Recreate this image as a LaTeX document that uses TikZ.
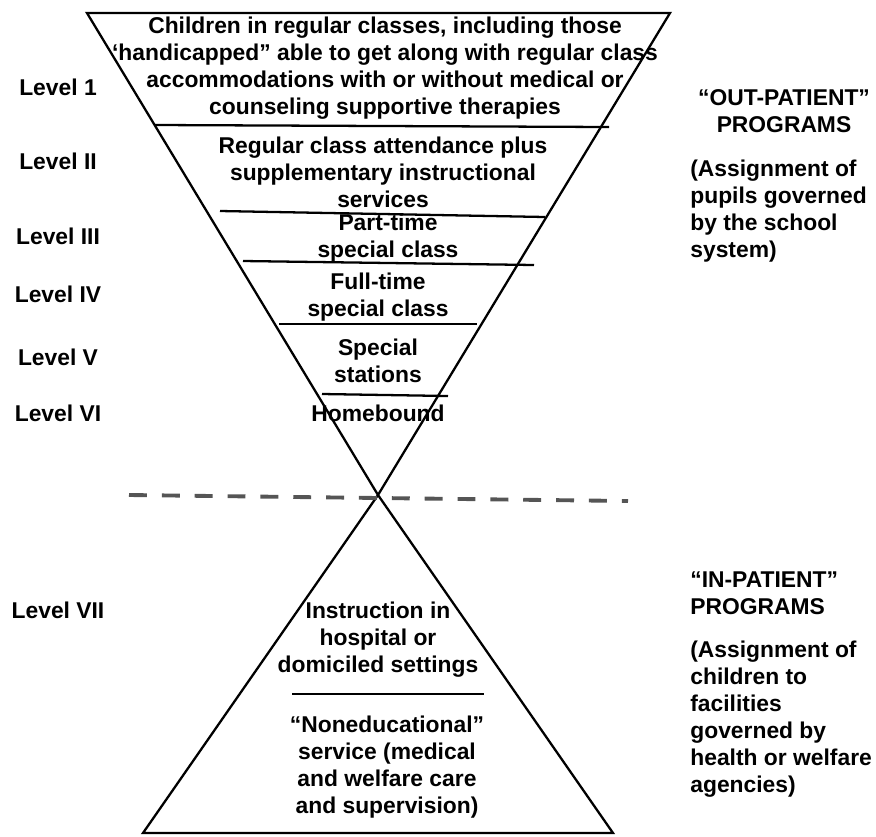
\documentclass[tikz,border=0pt]{standalone}
\usepackage{fontspec}
\setmainfont{Liberation Sans}
\usepackage{xcolor}
\definecolor{cutgray}{HTML}{555555}
\tikzset{
  bandtext/.style={
    font=\bfseries\fontsize{13}{15.4}\selectfont,
    inner sep=0pt,
    align=center
  },
  leveltext/.style={
    font=\bfseries\fontsize{13}{15.4}\selectfont,
    inner sep=0pt
  },
  sidetext/.style={
    font=\bfseries\fontsize{13}{15.4}\selectfont,
    inner sep=0pt,
    align=left,
    anchor=west
  },
  funnel/.style={
    line width=1.3pt,
    draw=black
  },
  divider/.style={
    line width=1.3pt,
    draw=black
  },
  cutline/.style={
    line width=2.2pt,
    draw=cutgray,
    dash pattern=on 10.2pt off 8.5pt
  }
}

\begin{document}
\begin{tikzpicture}[x=0.02cm, y=-0.02cm]
\useasboundingbox (0,0) rectangle (876,836);
% the two triangles meeting at one point
\coordinate (topleft) at (87,13);
\coordinate (topright) at (670,13);
\coordinate (apex) at (378,495);
\coordinate (baseleft) at (143,833);
\coordinate (baseright) at (613,833);
\draw[funnel] (topleft) -- (topright) -- (apex) -- cycle;
\draw[funnel] (apex) -- (baseleft) -- (baseright) -- cycle;
% band dividers
\draw[divider] (155,125) -- (609,127);
\draw[divider] (220,211) -- (545,217);
\draw[divider] (243,261) -- (534,265);
\draw[divider] (279,324) -- (477,324);
\draw[divider] (322,394) -- (448,396);
\draw[divider] (292,694) -- (484,694);
\draw[cutline] (129,495) -- (628,501);
% band texts
\node[bandtext] (regular) at (385,68) {Children in regular classes, including those\\‘handicapped” able to get along with regular class\\accommodations with or without medical or\\counseling supportive therapies};
\node[bandtext] (supplement) at (383,172) {Regular class attendance plus\\supplementary instructional\\services};
\node[bandtext] (parttime) at (388,238) {Part-time\\special class};
\node[bandtext] (fulltime) at (378,297) {Full-time\\special class};
\node[bandtext] (stations) at (378,361) {Special\\stations};
\node[bandtext] (homebound) at (378,413) {Homebound};
\node[bandtext] (hospital) at (378,640) {Instruction in\\hospital or\\domiciled settings};
\node[bandtext] (noneducational) at (387,767) {“Noneducational”\\service (medical\\and welfare care\\and supervision)};
% level labels
\node[leveltext] (lvlI) at (58,87) {Level 1};
\node[leveltext] (lvlII) at (58,161) {Level II};
\node[leveltext] (lvlIII) at (58,236) {Level III};
\node[leveltext] (lvlIV) at (58,294) {Level IV};
\node[leveltext] (lvlV) at (58,357) {Level V};
\node[leveltext] (lvlVI) at (58,413) {Level VI};
\node[leveltext] (lvlVII) at (58,610) {Level VII};
% program notes
\node[bandtext] (outhead) at (784,111) {“OUT-PATIENT”\\PROGRAMS};
\node[sidetext] (outnote) at (690,211) {(Assignment of\\pupils governed\\by the school\\system)};
\node[sidetext] (inhead) at (690,593) {“IN-PATIENT”\\PROGRAMS};
\node[sidetext] (innote) at (690,719) {(Assignment of\\children to\\facilities\\governed by\\health or welfare\\agencies)};
\end{tikzpicture}
\end{document}
